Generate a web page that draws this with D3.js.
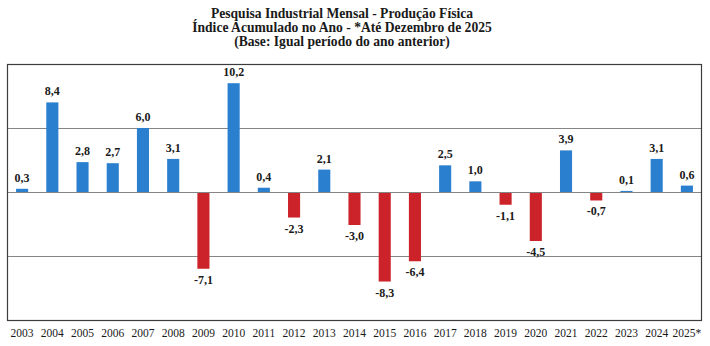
<!DOCTYPE html>
<html lang="pt">
	<head>
		<meta charset="utf-8">
		<title>PIM - Produção Física</title>
		<script type="text/javascript" src="https://cdn.jsdelivr.net/npm/d3@7"></script>
		<style type="text/css">
			body { margin:0; background:#fff; }
			text { font-family: "Liberation Serif", "DejaVu Serif", serif; }
		</style>
	</head>
	<body>
		<script type="text/javascript">

var years = ["2003","2004","2005","2006","2007","2008","2009","2010","2011","2012","2013","2014",
	"2015","2016","2017","2018","2019","2020","2021","2022","2023","2024","2025*"]
var values = [0.3,8.4,2.8,2.7,6.0,3.1,-7.1,10.2,0.4,-2.3,2.1,-3.0,-8.3,-6.4,2.5,1.0,-1.1,-4.5,3.9,-0.7,0.1,3.1,0.6]
var gridTicks = [-6,0,6]
var titleLines = ["Pesquisa Industrial Mensal - Produção Física",
	"Índice Acumulado no Ano - *Até Dezembro de 2025",
	"(Base: Igual período do ano anterior)"]

var w = 710, h = 346
var pl = 7, pr = 702, pt = 64, pb = 320

var locale = d3.formatLocale({decimal: ",", thousands: ".", grouping: [3], currency: ["R$", ""], minus: "-"})
var fmt = locale.format(".1f")

var svg = d3.select("body").append("svg").attr("width", w).attr("height", h)

var x = d3.scaleBand().domain(years).range([pl, pr]).paddingInner(0.6).paddingOuter(0.3)
var y = d3.scaleLinear().domain([-12, 12]).range([pb, pt])

// title
svg.selectAll(".title")
	.data(titleLines)
	.enter()
	.append("text")
	.attr("class", "title")
	.attr("x", 342)
	.attr("y", function(d, i) { return 18 + i * 14.2 })
	.attr("text-anchor", "middle")
	.attr("font-size", "13.6px")
	.attr("font-weight", "bold")
	.attr("fill", "#1a1a1a")
	.text(function(d) { return d })

// gridlines
svg.selectAll(".grid")
	.data(gridTicks)
	.enter()
	.append("line")
	.attr("x1", pl).attr("x2", pr)
	.attr("y1", function(d) { return Math.round(y(d)) + 0.5 })
	.attr("y2", function(d) { return Math.round(y(d)) + 0.5 })
	.attr("stroke", "#858585")
	.attr("stroke-width", 1)

// bars
svg.selectAll(".bar")
	.data(values)
	.enter()
	.append("rect")
	.attr("x", function(d, i) { return x(years[i]) })
	.attr("width", x.bandwidth())
	.attr("y", function(d) { return d > 0 ? y(d) : y(0) + 1 })
	.attr("height", function(d) { return Math.abs(y(d) - y(0)) })
	.attr("fill", function(d) { return d >= 0 ? "#2a7fcf" : "#cc2229" })

// value labels
svg.selectAll(".val")
	.data(values)
	.enter()
	.append("text")
	.attr("x", function(d, i) { return x(years[i]) + x.bandwidth() / 2 })
	.attr("y", function(d) { return d >= 0 ? y(d) - 7 : y(d) + 16 })
	.attr("text-anchor", "middle")
	.attr("font-size", "12px")
	.attr("font-weight", "bold")
	.attr("fill", "#1a1a1a")
	.text(function(d) { return fmt(d) })

// plot border
svg.append("rect")
	.attr("x", pl + 0.5).attr("y", pt + 0.5)
	.attr("width", pr - pl - 1).attr("height", pb - pt)
	.attr("fill", "none")
	.attr("stroke", "#3c3c3c")
	.attr("stroke-width", 1.2)

// year axis
var xAxis = d3.axisBottom(x).tickSize(0).tickPadding(0)
svg.append("g")
	.attr("transform", "translate(0," + 329 + ")")
	.call(xAxis)
	.call(function(g) { g.select(".domain").remove() })
	.selectAll("text")
	.attr("font-family", "Liberation Serif, serif")
	.attr("font-size", "11.5px")
	.attr("fill", "#1a1a1a")
	.attr("dy", "0.71em")

		</script>
	</body>
</html>
